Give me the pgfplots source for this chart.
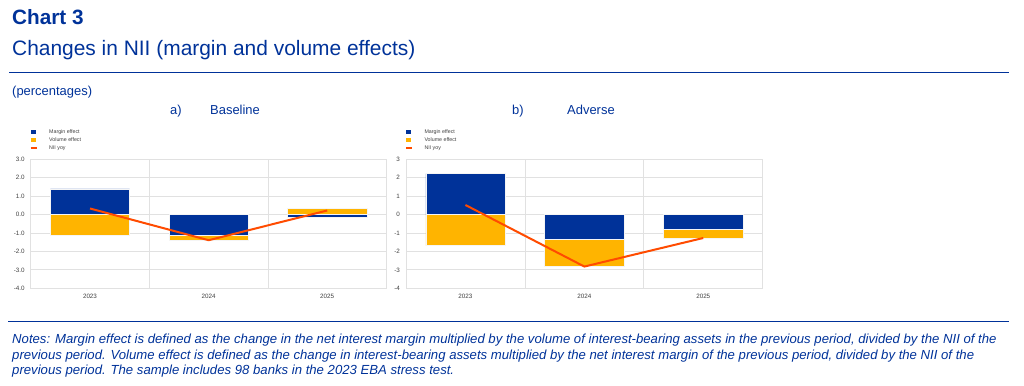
\documentclass[border=0pt]{standalone}
\usepackage{pgfplots}
\pgfplotsset{compat=1.18}
\usepackage{fontspec}
\setmainfont{Liberation Sans}
\definecolor{ecbblue}{HTML}{003299}
\definecolor{ecbyellow}{HTML}{FFB400}
\definecolor{ecborange}{HTML}{FF4B00}
\definecolor{gridgrey}{HTML}{E1E1E1}
\definecolor{ticktext}{HTML}{404040}

\pgfplotsset{
  chartbase/.style={
    scale only axis,
    width=#1,
    height=129bp,
    xmin=-0.5, xmax=2.5,
    ymin=-4, ymax=3,
    ytick={-4,-3,-2,-1,0,1,2,3},
    xtick={0,1,2},
    xticklabels={2023,2024,2025},
    extra x ticks={0.5,1.5},
    extra x tick labels={},
    extra x tick style={xmajorgrids=true},
    ymajorgrids=true,
    grid style={gridgrey, line width=0.8bp},
    axis line style={gridgrey, line width=0.8bp},
    major tick length=0pt,
    tick style={draw=none},
    /pgf/number format/assume math mode=true,
    tick label style={font=\fontsize{6.3}{7}\selectfont, text=ticktext},
    yticklabel style={xshift=-2.5bp},
    xticklabel style={yshift=-2.5bp},
    legend style={at={(0,1)}, anchor=south west, yshift=8bp, xshift=-1bp,
      draw=none, fill=none, inner sep=0pt,
      font=\fontsize{5.3}{6}\selectfont, text=ticktext,
      nodes={inner sep=0.5bp, text height=4bp, text depth=1.2bp},
      row sep=1.8bp},
    legend cell align=left,
    clip=false,
  },
  sqlegend/.style={legend image code/.code={\path[draw=none, fill=#1] (0bp,-2.4bp) rectangle (5bp,2.4bp); \path[draw=none, fill=none] (0bp,0bp) -- (18bp,0bp);}},
  linelegend/.style={legend image code/.code={\path[draw=#1, line width=1.6bp] (0bp,0bp) -- (6bp,0bp); \path[draw=none, fill=none] (0bp,0bp) -- (18bp,0bp);}},
  barstyle/.style={ybar, bar width=0.667, bar shift=0pt, draw=white!92!gray, line width=0.5bp, forget plot},
}

\begin{document}
\begin{tikzpicture}
\path[use as bounding box] (0,0) rectangle (1024bp,386bp);

% Header
\node[anchor=base west, inner sep=0pt, text=ecbblue, font=\fontsize{20.8}{24}\selectfont\bfseries] at (12bp,361bp) {Chart 3};
\node[anchor=base west, inner sep=0pt, text=ecbblue, font=\fontsize{21}{24}\selectfont] at (12bp,330bp) {Changes in NII (margin and volume effects)};
\draw[ecbblue, line width=0.9bp] (9bp,314bp) -- (1009bp,314bp);
\node[anchor=base west, inner sep=0pt, text=ecbblue, font=\fontsize{13}{15}\selectfont] at (12bp,290bp) {(percentages)};
\node[anchor=base west, inner sep=0pt, text=ecbblue, font=\fontsize{13}{15}\selectfont] at (170bp,271bp) {a)};
\node[anchor=base west, inner sep=0pt, text=ecbblue, font=\fontsize{13}{15}\selectfont] at (210bp,271bp) {Baseline};
\node[anchor=base west, inner sep=0pt, text=ecbblue, font=\fontsize{13}{15}\selectfont] at (512bp,271bp) {b)};
\node[anchor=base west, inner sep=0pt, text=ecbblue, font=\fontsize{13}{15}\selectfont] at (567bp,271bp) {Adverse};

% Baseline panel
\begin{axis}[chartbase=355.8bp, at={(30.7bp,97.7bp)}, anchor=south west,
  yticklabel style={/pgf/number format/.cd, fixed, fixed zerofill, precision=1}]
\addlegendimage{sqlegend=ecbblue}
\addlegendentry{Margin effect}
\addlegendimage{sqlegend=ecbyellow}
\addlegendentry{Volume effect}
\addlegendimage{linelegend=ecborange}
\addlegendentry{NII yoy}
% volume effect (outer segment, drawn from zero)
\addplot[barstyle, fill=ecbyellow] coordinates {(0,-1.10) (1,-1.37) (2,0.34)};
% margin effect
\addplot[barstyle, fill=ecbblue] coordinates {(0,1.40) (1,-1.12) (2,-0.14)};
% NII yoy
\addplot[forget plot, sharp plot, ecborange, line width=2bp] coordinates {(0,0.33) (1,-1.39) (2,0.22)};
\end{axis}

% Adverse panel
\begin{axis}[chartbase=356.7bp, at={(406bp,97.7bp)}, anchor=south west]
\addlegendimage{sqlegend=ecbblue}
\addlegendentry{Margin effect}
\addlegendimage{sqlegend=ecbyellow}
\addlegendentry{Volume effect}
\addlegendimage{linelegend=ecborange}
\addlegendentry{NII yoy}
\addplot[barstyle, fill=ecbyellow] coordinates {(0,-1.68) (1,-2.80) (2,-1.28)};
\addplot[barstyle, fill=ecbblue] coordinates {(0,2.22) (1,-1.36) (2,-0.78)};
\addplot[forget plot, sharp plot, ecborange, line width=2bp] coordinates {(0,0.52) (1,-2.82) (2,-1.27)};
\end{axis}

% Notes
\draw[ecbblue, line width=0.9bp] (8bp,65bp) -- (1009bp,65bp);
\node[anchor=base west, inner sep=0pt, text=ecbblue, font=\fontsize{13.2}{15}\selectfont\itshape] at (12bp,42bp) {Notes: Margin effect is defined as the change in the net interest margin multiplied by the volume of interest-bearing assets in the previous period, divided by the NII of the};
\node[anchor=base west, inner sep=0pt, text=ecbblue, font=\fontsize{13.2}{15}\selectfont\itshape] at (12bp,27bp) {previous period. Volume effect is defined as the change in interest-bearing assets multiplied by the net interest margin of the previous period, divided by the NII of the};
\node[anchor=base west, inner sep=0pt, text=ecbblue, font=\fontsize{13.2}{15}\selectfont\itshape] at (12bp,12bp) {previous period. The sample includes 98 banks in the 2023 EBA stress test.};
\end{tikzpicture}
\end{document}
